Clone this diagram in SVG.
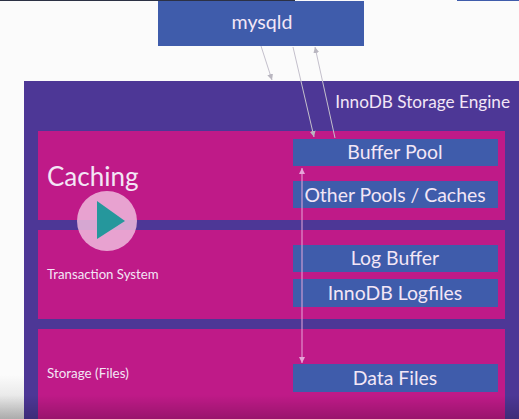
<svg xmlns="http://www.w3.org/2000/svg" width="519" height="419" viewBox="0 0 519 419">
<style>
text{font-family:Lato,"Open Sans",sans-serif;fill:#f3e6f6}
.m{text-anchor:middle}
.band{fill:#bf1a88}
.box{fill:#3f5cab}
.c{fill:none;stroke:#c4c0cc;stroke-width:1}
.p{fill:none;stroke:#e6a6d8;stroke-width:1}
</style>
<defs>
<marker id="g" markerWidth="8" markerHeight="8" refX="6" refY="3" orient="auto" markerUnits="userSpaceOnUse"><path d="M0 0L6 3L0 6z" fill="#b9b6c0"/></marker>
<marker id="a" markerWidth="8" markerHeight="8" refX="6" refY="3" orient="auto-start-reverse" markerUnits="userSpaceOnUse"><path d="M0 0L6 3L0 6z" fill="#e6a6d8"/></marker>
<linearGradient id="fade" x1="0" y1="0" x2="0" y2="1"><stop offset="0" stop-color="#000" stop-opacity="0"/><stop offset="1" stop-color="#000" stop-opacity=".2"/></linearGradient>
<linearGradient id="lf" x1="0" y1="0" x2="0" y2="1"><stop offset="0" stop-color="#fbfbfb"/><stop offset="1" stop-color="#d6d6d6"/></linearGradient>
</defs>
<rect width="519" height="419" fill="#fbfbfb"/>
<rect x="0" y="375" width="24" height="44" fill="url(#lf)"/>
<rect x="0" y="0" width="295" height="1" fill="#2c3144"/>
<rect x="457" y="0" width="62" height="1" fill="#3f5cab"/>
<g id="engine"><rect x="24" y="81" width="495" height="338" fill="#4d3796"/><text x="510" y="108" text-anchor="end" font-size="17.2">InnoDB Storage Engine</text></g>
<g id="caching"><rect class="band" x="38" y="131" width="467" height="89"/><text x="47" y="186" font-size="26">Caching</text></g>
<g id="transaction"><rect class="band" x="38" y="230" width="467" height="89"/><text x="47" y="279" font-size="13.2">Transaction System</text></g>
<g id="storage"><rect class="band" x="38" y="329" width="467" height="90"/><text x="47" y="378" font-size="13.4">Storage (Files)</text></g>
<g id="mysqld"><rect class="box" x="158" y="1" width="206" height="45"/><text class="m" x="262" y="29" font-size="19.6">mysqld</text></g>
<g id="buffer-pool"><rect class="box" x="293" y="139" width="205" height="27"/><text class="m" x="395" y="159" font-size="19.4">Buffer Pool</text></g>
<g id="other-pools"><rect class="box" x="293" y="181" width="205" height="27"/><text class="m" x="395" y="202" font-size="19.4">Other Pools / Caches</text></g>
<g id="log-buffer"><rect class="box" x="293" y="245" width="205" height="27"/><text class="m" x="395" y="265" font-size="19.4">Log Buffer</text></g>
<g id="logfiles"><rect class="box" x="293" y="279" width="205" height="28"/><text class="m" x="395" y="300" font-size="19.4">InnoDB Logfiles</text></g>
<g id="data-files"><rect class="box" x="293" y="364" width="205" height="28"/><text class="m" x="395" y="385" font-size="19.4">Data Files</text></g>
<g id="connectors">
<line class="c" x1="261" y1="46" x2="272" y2="80" marker-end="url(#g)"/>
<line class="c" x1="293" y1="47" x2="314" y2="137" marker-end="url(#g)"/>
<line class="c" x1="335" y1="138" x2="315" y2="47" marker-end="url(#g)"/>
<line class="p" x1="302" y1="168" x2="302" y2="363" marker-start="url(#a)" marker-end="url(#a)"/>
</g>
<rect x="0" y="395" width="519" height="24" fill="url(#fade)"/>
<g id="play"><circle cx="107" cy="221" r="30" fill="#eebbdd" fill-opacity=".85"/><path d="M97 201L125 221L97 239z" fill="#25979c"/></g>
</svg>
